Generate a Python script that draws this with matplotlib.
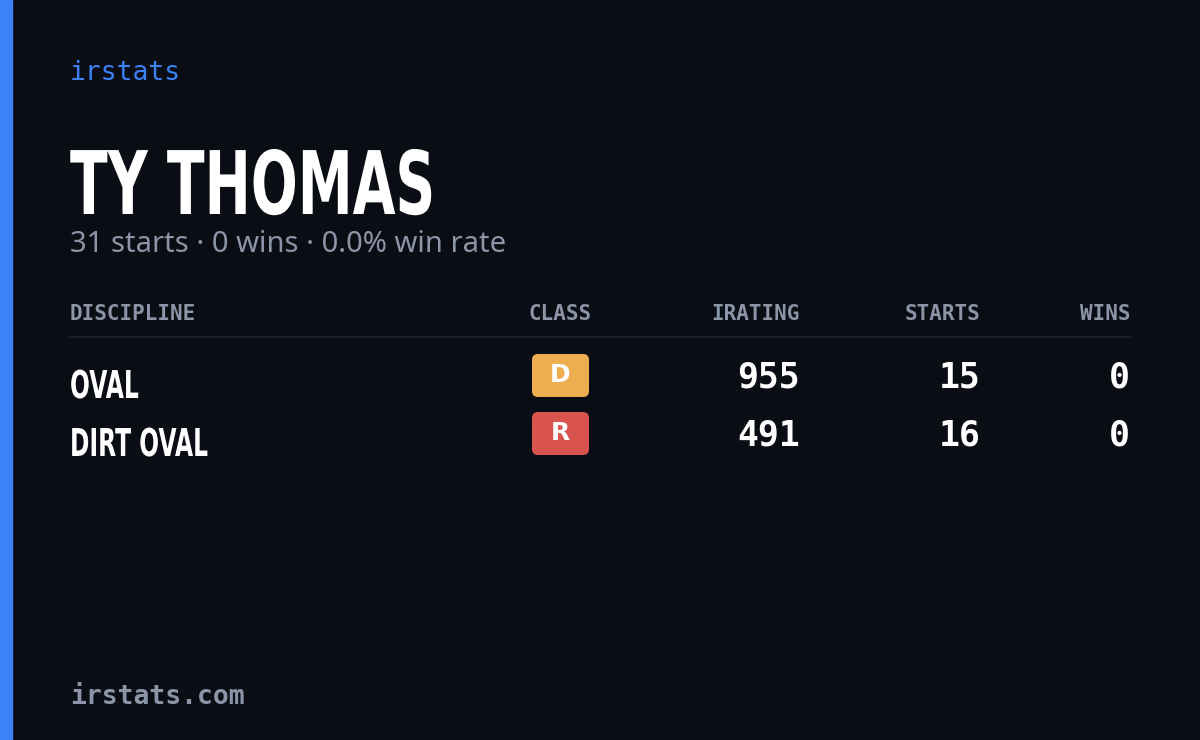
import matplotlib.pyplot as plt
from matplotlib.patches import Rectangle, FancyBboxPatch, PathPatch
from matplotlib.textpath import TextPath
from matplotlib.font_manager import FontProperties
from matplotlib.transforms import Affine2D

driver = "TY THOMAS"
summary = "31 starts · 0 wins · 0.0% win rate"
columns = ["DISCIPLINE", "CLASS", "IRATING", "STARTS", "WINS"]
disciplines = ["OVAL", "DIRT OVAL"]
classes = ["D", "R"]
class_colors = ["#eead4e", "#d9534f"]
iratings = [955, 491]
starts = [15, 16]
wins = [0, 0]

BG = "#0a0d14"
MUTED = "#8b95a7"
BLUE = "#3b82f6"

fig = plt.figure(figsize=(12, 7.4), dpi=100, facecolor=BG)
ax = fig.add_axes([0, 0, 1, 1])
ax.set_xlim(0, 1200)
ax.set_ylim(740, 0)
ax.axis("off")
ax.set_facecolor(BG)

ax.add_patch(Rectangle((0, 0), 12, 740, color=BLUE))


def cond_text(x, y, s, cap_px, sx, color="white"):
    # condensed bold text drawn as a path, baseline at y
    fp = FontProperties(family="DejaVu Sans", weight="bold")
    tp = TextPath((0, 0), s, size=cap_px / 0.73, prop=fp)
    tr = Affine2D().scale(sx, -1).translate(x, y)
    ax.add_patch(PathPatch(tr.transform_path(tp), color=color, lw=0))


mono = "DejaVu Sans Mono"
ax.text(70, 73, "irstats", color=BLUE, fontsize=19, family=mono, va="center")
cond_text(70, 214, driver, 64, 0.63)
ax.text(70, 245, summary, color=MUTED, fontsize=21, family="Noto Sans", va="center")

col_x = [70, 560, 800, 980, 1130]
col_ha = ["left", "center", "right", "right", "right"]
for name, x, ha in zip(columns, col_x, col_ha):
    ax.text(x, 314, name, color=MUTED, fontsize=15, family=mono, weight="bold",
            va="center", ha=ha)
ax.plot([70, 1130], [337, 337], color="#1c212c", lw=1.2)

row_y = [378, 436]
for i, y in enumerate(row_y):
    cond_text(70, y + 20, disciplines[i], 28, 0.61)
    ax.add_patch(FancyBboxPatch((532, y - 24), 57, 43, boxstyle="round,pad=0,rounding_size=6",
                                color=class_colors[i], lw=0))
    ax.text(560.5, y - 3, classes[i], color="white", fontsize=18, weight="bold",
            family="DejaVu Sans", ha="center", va="center")
    for val, x in zip([iratings[i], starts[i], wins[i]], col_x[2:]):
        ax.text(x, y, str(val), color="white", fontsize=25, family=mono, weight="bold",
                ha="right", va="center")

ax.text(70, 697, "irstats.com", color=MUTED, fontsize=19, family=mono, weight="bold",
        va="center")

fig.savefig("out.png", dpi=100, facecolor=BG)
